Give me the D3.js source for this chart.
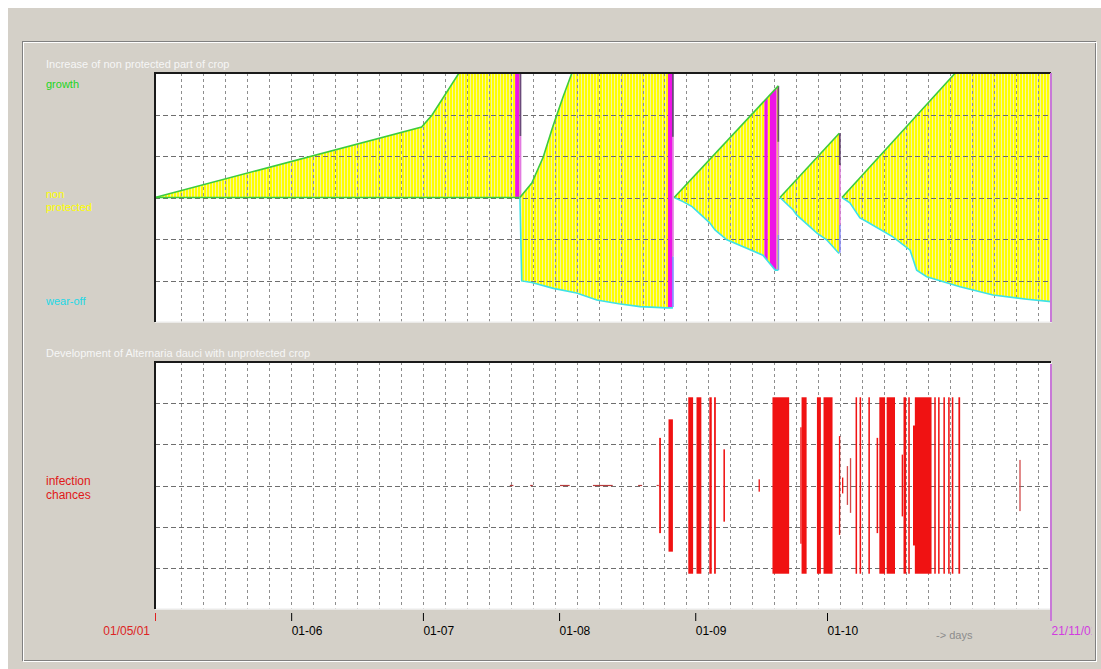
<!DOCTYPE html>
<html>
<head>
<meta charset="utf-8">
<script src="https://cdn.jsdelivr.net/npm/d3@7"></script>
<style>
    body { margin: 0; background: #ffffff; }
    svg text { font-family: "Liberation Sans", Arial, sans-serif; }
</style>
</head>
<body>
<div id="chart"></div>
<script>

// ---- data ----
var seasonStart = "2001-05-01 00:00";
var seasonEnd = "2001-11-21 00:00";

var monthTicks = ["2001-06-01 00:00", "2001-07-01 00:00", "2001-08-01 00:00",
                  "2001-09-01 00:00", "2001-10-01 00:00"];

// growth (upper edge) of the non protected part, per period between sprays
var growthSegments = [
    [["2001-05-01 00:00", 0], ["2001-06-30 17:00", 1.70], ["2001-07-03 02:00", 1.99],
     ["2001-07-09 05:00", 3], ["2001-07-23 00:00", 3]],
    [["2001-07-23 02:00", 0], ["2001-07-25 19:00", 0.35], ["2001-07-28 10:00", 0.98],
     ["2001-07-30 14:00", 1.71], ["2001-08-01 22:00", 2.43], ["2001-08-03 22:00", 3],
     ["2001-08-26 22:00", 3]],
    [["2001-08-27 05:00", 0], ["2001-09-19 22:00", 2.69]],
    [["2001-09-20 07:00", 0], ["2001-10-03 19:00", 1.55]],
    [["2001-10-04 10:00", 0], ["2001-10-30 05:00", 3], ["2001-11-21 00:00", 3]]
];

// wear-off (lower edge)
var wearSegments = [
    [["2001-05-01 00:00", 0], ["2001-07-23 00:00", 0]],
    [["2001-07-23 02:00", 0], ["2001-07-23 12:00", -2.01], ["2001-07-25 19:00", -2.05],
     ["2001-07-30 17:00", -2.19], ["2001-08-05 00:00", -2.30], ["2001-08-09 14:00", -2.47],
     ["2001-08-14 14:00", -2.56], ["2001-08-19 10:00", -2.63], ["2001-08-25 12:00", -2.66],
     ["2001-08-26 22:00", -2.66]],
    [["2001-08-27 05:00", 0], ["2001-08-29 05:00", -0.10], ["2001-08-31 07:00", -0.22],
     ["2001-09-04 07:00", -0.61], ["2001-09-05 12:00", -0.78], ["2001-09-08 05:00", -1.02],
     ["2001-09-16 10:00", -1.39], ["2001-09-19 05:00", -1.75], ["2001-09-19 22:00", -1.75]],
    [["2001-09-20 07:00", 0], ["2001-09-23 07:00", -0.30], ["2001-09-24 02:00", -0.42],
     ["2001-09-28 17:00", -0.86], ["2001-09-30 22:00", -1.02], ["2001-10-03 14:00", -1.33],
     ["2001-10-03 19:00", -1.35]],
    [["2001-10-04 10:00", 0], ["2001-10-06 05:00", -0.13], ["2001-10-08 12:00", -0.49],
     ["2001-10-10 00:00", -0.58], ["2001-10-16 00:00", -0.95], ["2001-10-19 22:00", -1.27],
     ["2001-10-21 10:00", -1.75], ["2001-10-23 17:00", -1.91], ["2001-10-31 07:00", -2.15],
     ["2001-11-07 19:00", -2.35], ["2001-11-15 12:00", -2.45], ["2001-11-21 00:00", -2.51]]
];

// spray days (magenta), start / end
var sprayDays = [
    ["2001-07-22 00:00", "2001-07-23 00:00"],
    ["2001-08-25 19:00", "2001-08-26 17:00"],
    ["2001-09-16 18:00", "2001-09-17 12:00"],
    ["2001-09-18 00:00", "2001-09-19 12:00"]
];

// thin strips at the end of each period: date, top, split1, split2, bottom
var endStrips = [
    ["2001-07-23 00:00", 3, 1.48, 0, 0],
    ["2001-08-26 17:00", 3, 1.46, -1.42, -2.64],
    ["2001-09-19 17:00", 2.69, 1.34, -0.90, -1.75],
    ["2001-10-03 17:00", 1.55, 0.78, -0.66, -1.33]
];

// infection chances: start, duration (days), value (%)
var infectionStart = [
    "2001-07-20 19:00", "2001-07-25 10:00", "2001-08-01 05:00", "2001-08-08 17:00",
    "2001-08-19 00:00", "2001-08-23 05:00", "2001-08-23 19:00", "2001-08-25 22:00",
    "2001-08-30 10:00", "2001-09-01 07:00", "2001-09-04 05:00", "2001-09-05 07:00",
    "2001-09-07 10:00", "2001-09-15 10:00", "2001-09-18 14:00", "2001-09-24 22:00",
    "2001-09-25 05:00", "2001-09-28 17:00", "2001-09-30 05:00", "2001-10-03 17:00",
    "2001-10-04 10:00", "2001-10-05 12:00", "2001-10-06 05:00", "2001-10-07 12:00",
    "2001-10-08 10:00", "2001-10-10 10:00", "2001-10-12 07:00", "2001-10-12 22:00",
    "2001-10-14 14:00", "2001-10-18 00:00", "2001-10-18 10:00", "2001-10-19 12:00",
    "2001-10-20 14:00", "2001-10-21 00:00", "2001-10-25 10:00", "2001-10-26 07:00",
    "2001-10-27 12:00", "2001-10-28 14:00", "2001-10-29 10:00", "2001-10-30 22:00",
    "2001-11-13 19:00"
];
var infectionDays = [
    0.8, 0.6, 2.2, 4.5, 0.9, 0.5, 0.4, 1.0,
    1.1, 1.1, 0.55, 0.4, 0.35, 0.3, 3.8, 0.3,
    1.15, 0.9, 2.05, 0.3, 0.3, 0.3, 0.3, 0.35,
    0.35, 0.35, 0.35, 1.3, 1.9, 0.3, 0.6, 0.35,
    0.45, 3.8, 0.35, 0.35, 0.35, 0.35, 0.35, 0.4,
    0.25
];
var infectionValue = [
    1, 1, 1, 1, 1, 2, 54, 75,
    100, 100, 100, 100, 41, 7, 100, 66,
    100, 100, 100, 56, 9, 22, 31, 100,
    100, 100, 54, 100, 100, 35, 100, 100,
    68, 100, 100, 100, 100, 100, 100, 100,
    29
];


CropChart = function (_parentElement) {

    this.parentElement = _parentElement;
    this.parse = d3.utcParse("%Y-%m-%d %H:%M");
    this.initVis();

};

CropChart.prototype.initVis = function () {

    var vis = this;

    vis.width = 1101;
    vis.height = 669;

    vis.svg = d3.select("#" + vis.parentElement).append("svg")
        .attr("width", vis.width)
        .attr("height", vis.height);

    // window background + group box
    vis.svg.append("rect")
        .attr("x", 8).attr("y", 8)
        .attr("width", vis.width - 8).attr("height", vis.height - 8)
        .attr("fill", "#d4d0c8");

    vis.svg.append("rect")
        .attr("x", 22.5).attr("y", 41.5)
        .attr("width", 1073).attr("height", 619)
        .attr("fill", "none").attr("stroke", "#808080");
    vis.svg.append("rect")
        .attr("x", 23.5).attr("y", 42.5)
        .attr("width", 1073).attr("height", 619)
        .attr("fill", "none").attr("stroke", "#ffffff");

    var defs = vis.svg.append("defs");

    // vertical hatch inside the yellow areas
    var pat = defs.append("pattern")
        .attr("id", "hatch")
        .attr("patternUnits", "userSpaceOnUse")
        .attr("width", 3).attr("height", 10);
    pat.append("rect").attr("width", 3).attr("height", 10).attr("fill", "#ffff00");
    pat.append("rect").attr("x", 2).attr("width", 1).attr("height", 10).attr("fill", "#f4f4a6");

    defs.append("clipPath").attr("id", "panel-clip")
        .append("rect").attr("x", 0).attr("y", 0).attr("width", 1092).attr("height", vis.height);

    vis.defs = defs;

    // plot boxes
    vis.left = 155;
    vis.right = 1051;
    vis.top1 = 73;  vis.bottom1 = 322;
    vis.top2 = 362; vis.bottom2 = 609;

    vis.x = d3.scaleUtc()
        .domain([vis.parse(seasonStart), vis.parse(seasonEnd)])
        .range([vis.left, vis.right]);

    vis.yCrop = d3.scaleLinear()
        .domain([-3, 3])
        .range([vis.bottom1, vis.top1]);

    vis.yInf = d3.scaleLinear()
        .domain([-140, 140])
        .range([vis.bottom2, vis.top2]);

    // texts
    var txt = [
        ["Increase of non protected part of crop", 68, "#f6f6f6", 11],
        ["growth", 88, "#22d422", 11],
        ["non", 198, "#ffff00", 11],
        ["protected", 211, "#ffff00", 11],
        ["wear-off", 305, "#22d8e6", 11],
        ["Development of Alternaria dauci with unprotected crop", 357, "#f6f6f6", 11],
        ["infection", 485, "#e01818", 12],
        ["chances", 499, "#e01818", 12]
    ];
    vis.svg.selectAll(".label").data(txt).enter().append("text")
        .attr("class", "label")
        .attr("x", 46)
        .attr("y", function (d) { return d[1]; })
        .attr("fill", function (d) { return d[2]; })
        .style("font-size", function (d) { return d[3] + "px"; })
        .text(function (d) { return d[0]; });

    vis.wrangleData();
};

CropChart.prototype.wrangleData = function () {

    var vis = this;

    var toPts = function (seg) {
        return seg.map(function (p) { return { date: vis.parse(p[0]), v: p[1] }; });
    };

    vis.growth = growthSegments.map(toPts);
    vis.wear = wearSegments.map(toPts);

    vis.sprays = sprayDays.map(function (s) {
        return { start: vis.parse(s[0]), end: vis.parse(s[1]) };
    });

    vis.strips = endStrips.map(function (s) {
        return { date: vis.parse(s[0]), v: s.slice(1) };
    });

    vis.infection = infectionStart.map(function (s, i) {
        var d = vis.parse(s);
        return { start: d, end: new Date(+d + infectionDays[i] * 864e5), v: infectionValue[i] };
    });

    vis.updateVis();
};

CropChart.prototype.drawBox = function (top, bottom) {

    var vis = this;

    vis.svg.append("rect")
        .attr("x", vis.left).attr("y", top)
        .attr("width", vis.right - vis.left).attr("height", bottom - top)
        .attr("fill", "#ffffff");
};

CropChart.prototype.drawGrid = function (g, top, bottom) {

    var vis = this;

    // every 5 days
    var days = d3.range(6, 204, 5).map(function (k) {
        return d3.utcDay.offset(vis.x.domain()[0], k);
    });

    g.selectAll(".vgrid").data(days).enter().append("line")
        .attr("x1", function (d) { return Math.round(vis.x(d)) + 0.5; })
        .attr("x2", function (d) { return Math.round(vis.x(d)) + 0.5; })
        .attr("y1", top).attr("y2", bottom)
        .attr("stroke", "#8e8e8e")
        .attr("stroke-dasharray", "3,3");

    var rows = d3.scaleLinear().domain([0, 6]).range([bottom, top]);
    g.selectAll(".hgrid").data(d3.range(1, 6)).enter().append("line")
        .attr("x1", vis.left).attr("x2", vis.right)
        .attr("y1", function (d) { return Math.round(rows(d)) + 0.5; })
        .attr("y2", function (d) { return Math.round(rows(d)) + 0.5; })
        .attr("stroke", "#6e6e6e")
        .attr("stroke-dasharray", "5,3");
};

CropChart.prototype.drawBorder = function (top, bottom) {

    var vis = this;

    vis.svg.append("path")
        .attr("d", "M" + vis.left + "," + bottom + "H" + vis.right + "V" + top)
        .attr("fill", "none").attr("stroke", "#f2f2f2").attr("stroke-width", 1.5);

    vis.svg.append("path")
        .attr("d", "M" + vis.left + "," + bottom + "V" + top + "H" + vis.right)
        .attr("fill", "none").attr("stroke", "#1a1a1a").attr("stroke-width", 2);
};

CropChart.prototype.updateVis = function () {

    var vis = this;

    // ---------- top plot ----------
    vis.drawBox(vis.top1, vis.bottom1);

    var line = d3.line()
        .x(function (d) { return vis.x(d.date); })
        .y(function (d) { return vis.yCrop(d.v); });

    var areaPath = function (d, i) {
        return line(d.concat(vis.wear[i].slice().reverse())) + "Z";
    };

    vis.svg.append("g").selectAll("path")
        .data(vis.growth).enter().append("path")
        .attr("d", areaPath)
        .attr("fill", "url(#hatch)");

    vis.defs.append("clipPath").attr("id", "crop-clip")
        .selectAll("path").data(vis.growth).enter().append("path")
        .attr("d", areaPath);

    vis.drawGrid(vis.svg.append("g"), vis.top1, vis.bottom1);

    // spray days
    vis.svg.append("g").attr("clip-path", "url(#crop-clip)")
        .selectAll("rect").data(vis.sprays).enter().append("rect")
        .attr("x", function (d) { return vis.x(d.start); })
        .attr("width", function (d) { return vis.x(d.end) - vis.x(d.start); })
        .attr("y", vis.top1).attr("height", vis.bottom1 - vis.top1)
        .attr("fill", "#ee14e6");

    // strips at the end of each period
    var stripColors = ["#6a4a7a", "#e27ae0", "#8c8cff"];
    vis.strips.forEach(function (s) {
        stripColors.forEach(function (c, k) {
            vis.svg.append("rect")
                .attr("x", vis.x(s.date))
                .attr("width", 1.8)
                .attr("y", vis.yCrop(s.v[k]))
                .attr("height", vis.yCrop(s.v[k + 1]) - vis.yCrop(s.v[k]))
                .attr("fill", c);
        });
    });

    // edges
    vis.svg.append("g").selectAll("path")
        .data(vis.wear).enter().append("path")
        .attr("d", function (d) { return line(d); })
        .attr("fill", "none")
        .attr("stroke", function (d) {
            return d3.min(d, function (p) { return p.v; }) === 0 ? "#3ccc3c" : "#3ee2e8";
        })
        .attr("stroke-width", 1.6);

    vis.svg.append("g").selectAll("path")
        .data(vis.growth).enter().append("path")
        .attr("d", function (d) { return line(d); })
        .attr("fill", "none")
        .attr("stroke", "#3ccc3c")
        .attr("stroke-width", 1.6);

    vis.drawBorder(vis.top1, vis.bottom1);

    // ---------- bottom plot ----------
    vis.drawBox(vis.top2, vis.bottom2);
    vis.drawGrid(vis.svg.append("g"), vis.top2, vis.bottom2);

    // bars are symmetric round the middle line; tiny chances are flat dashes
    vis.svg.append("g").selectAll("rect")
        .data(vis.infection).enter().append("rect")
        .attr("x", function (d) { return vis.x(d.start); })
        .attr("width", function (d) { return Math.max(1.3, vis.x(d.end) - vis.x(d.start)); })
        .attr("y", function (d) { return d.v < 3 ? vis.yInf(0) - 0.6 : vis.yInf(d.v); })
        .attr("height", function (d) { return d.v < 3 ? 1.2 : vis.yInf(-d.v) - vis.yInf(d.v); })
        .attr("fill", function (d) {
            if (d.v < 3) return "#b83c3c";
            return d.v < 35 && d.v > 20 ? "#d24a4a" : "#f01212";
        });

    vis.drawBorder(vis.top2, vis.bottom2);

    // ---------- time axis ----------
    vis.xAxis = d3.axisBottom(vis.x)
        .tickValues(monthTicks.map(vis.parse))
        .tickFormat(d3.utcFormat("%d-%m"))
        .tickSize(8);

    var axis = vis.svg.append("g")
        .attr("class", "x-axis axis")
        .attr("transform", "translate(0,613)")
        .call(vis.xAxis);

    axis.select(".domain").remove();
    axis.selectAll("line").attr("stroke", "#000");
    axis.selectAll("text")
        .attr("text-anchor", "start")
        .attr("x", 0).attr("y", 22).attr("dy", null)
        .attr("fill", "#000")
        .style("font-size", "12px")
        .style("font-family", "'Liberation Sans', Arial, sans-serif");

    var x0 = vis.x(vis.x.domain()[0]);
    var x1 = vis.x(vis.x.domain()[1]);

    vis.svg.append("line")
        .attr("x1", x0 + 0.5).attr("x2", x0 + 0.5)
        .attr("y1", 613).attr("y2", 621)
        .attr("stroke", "#e02020");

    vis.svg.append("text")
        .attr("x", x0 - 5).attr("y", 635)
        .attr("text-anchor", "end")
        .attr("fill", "#dd2424")
        .style("font-size", "12px")
        .text("01/05/01");

    // today line
    [[vis.top1, vis.bottom1], [vis.top2 + 2, 621]].forEach(function (r) {
        vis.svg.append("line")
            .attr("x1", x1).attr("x2", x1)
            .attr("y1", r[0]).attr("y2", r[1])
            .attr("stroke", "#c878d8").attr("stroke-width", 2);
    });

    vis.svg.append("text")
        .attr("clip-path", "url(#panel-clip)")
        .attr("x", x1 + 0.5).attr("y", 635)
        .attr("fill", "#d23ce0")
        .style("font-size", "12px")
        .text("21/11/01");

    vis.svg.append("text")
        .attr("x", 936).attr("y", 639)
        .attr("fill", "#8c8c8c")
        .style("font-size", "11px")
        .text("-> days");
};

var chart = new CropChart("chart");

</script>
</body>
</html>
